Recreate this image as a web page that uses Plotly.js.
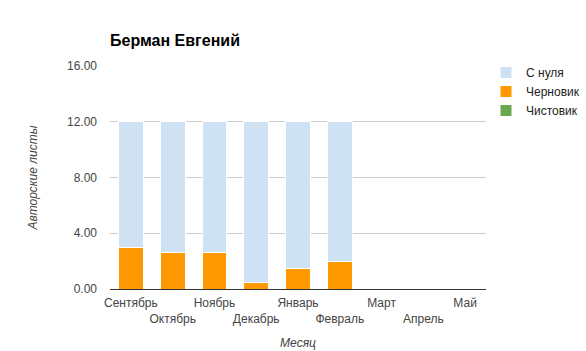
<!DOCTYPE html>
<html>
<head>
<meta charset="utf-8">
<script src="https://cdn.plot.ly/plotly-3.0.1.min.js"></script>
<style>html,body{margin:0;padding:0;background:#fff;}#chart{width:586px;height:351px;}</style>
</head>
<body>
<div id="chart"></div>
<script>
const months = ["Сентябрь","Октябрь","Ноябрь","Декабрь","Январь","Февраль","Март","Апрель","Май"];
const fromScratch = [9.0, 9.35, 9.35, 11.5, 10.55, 10.0, 0, 0, 0];
const draft = [3.0, 2.65, 2.65, 0.5, 1.45, 2.0, 0, 0, 0];
const clean = [0, 0, 0, 0, 0, 0, 0, 0, 0];
const yTicks = [0, 4, 8, 12, 16];

// staggered tick labels: odd positions go to second row
const tickText = months.map((m, i) => i % 2 === 1 ? "<br>" + m : m);

const font = "Arial, 'Liberation Sans', sans-serif";
const line = {color: "#ffffff", width: 1};
const W = 586, H = 351;

const traces = [
  {type: "bar", name: "Черновик", x: months, y: draft, marker: {color: "#ff9900", line: line}, legendrank: 2},
  {type: "bar", name: "С нуля", x: months, y: fromScratch, marker: {color: "#cfe2f3", line: line}, legendrank: 1},
  {type: "bar", name: "Чистовик", x: months, y: clean, marker: {color: "#6aa84f", line: line}, legendrank: 3}
];

const layout = {
  width: W, height: H,
  margin: {l: 110, r: 98, t: 66, b: 62, pad: 0},
  paper_bgcolor: "#fff", plot_bgcolor: "#fff",
  barmode: "stack", bargap: 0.405,
  font: {family: font, size: 12, color: "#444"},
  title: {text: "<b>Берман Евгений</b>", x: 110 / W, xref: "container", xanchor: "left", y: 1 - 40 / H, yref: "container", yanchor: "middle", font: {family: font, size: 16, color: "#000"}},
  xaxis: {
    tickmode: "array", tickvals: months, ticktext: tickText, tickangle: 0,
    showgrid: false, showline: true, linecolor: "#333", linewidth: 1,
    ticks: "", ticklabelstandoff: 3, tickfont: {size: 12, color: "#444"},
    title: {text: "<i>Месяц</i>", font: {size: 12, color: "#444"}, standoff: 13},
    fixedrange: true
  },
  yaxis: {
    range: [0, 16], tickmode: "array", tickvals: yTicks, tickformat: ".2f",
    showgrid: true, gridcolor: "#cccccc", zeroline: false, showline: false,
    ticks: "", ticklabelstandoff: 12, tickfont: {size: 12, color: "#444"},
    title: {text: "<i>Авторские листы</i>", font: {size: 12, color: "#444"}, standoff: 26},
    fixedrange: true
  },
  showlegend: true,
  legend: {x: 486 / W, xref: "container", xanchor: "left", y: 1 - 58 / H, yref: "container", yanchor: "top",
    font: {size: 12, color: "#222"}, itemwidth: 30, tracegroupgap: 0, traceorder: "normal", bgcolor: "rgba(0,0,0,0)"}
};
Plotly.newPlot("chart", traces, layout, {displayModeBar: false, staticPlot: true});
</script>
</body>
</html>
